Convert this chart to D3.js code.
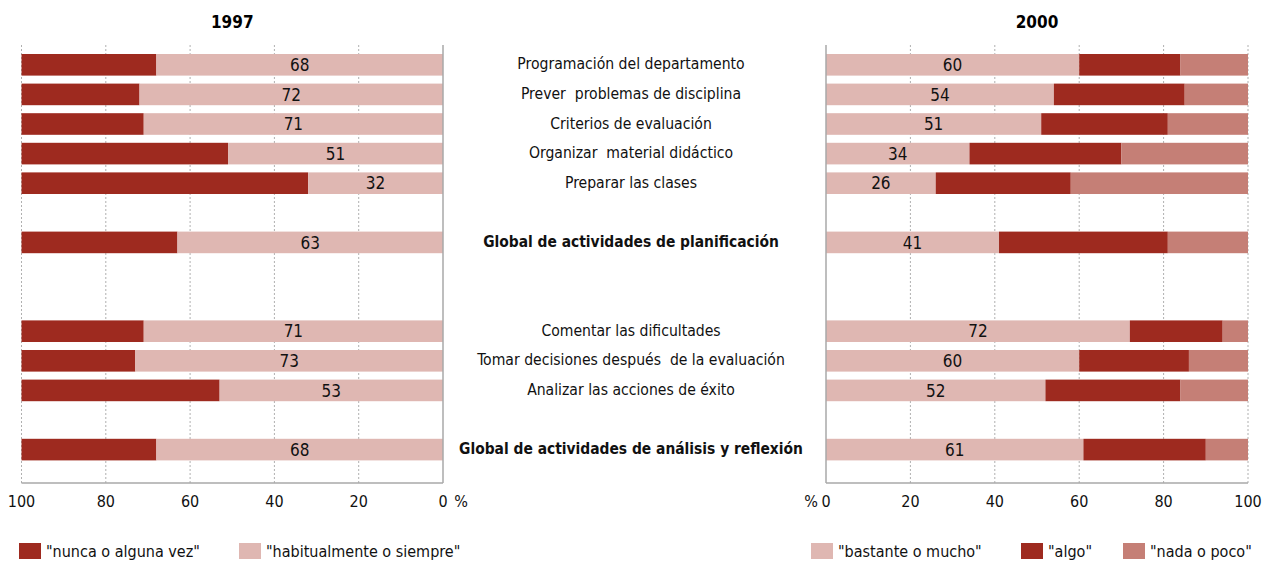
<!DOCTYPE html>
<html>
<head>
<meta charset="utf-8">
<script src="https://cdn.jsdelivr.net/npm/d3@7"></script>
<style>
  body { margin: 0; background: #fff; }
  svg { font-family: "Liberation Sans Narrow", "DejaVu Sans Condensed", "Liberation Sans", sans-serif; }
  text { white-space: pre; }
</style>
</head>
<body>
<svg id="chart" width="1266" height="562"></svg>
<script>
const categories = [
  "Programación del departamento",
  "Prever  problemas de disciplina",
  "Criterios de evaluación",
  "Organizar  material didáctico",
  "Preparar las clases",
  "Global de actividades de planificación",
  "Comentar las dificultades",
  "Tomar decisiones después  de la evaluación",
  "Analizar las acciones de éxito",
  "Global de actividades de análisis y reflexión"
];
const boldRows = ["Global de actividades de planificación", "Global de actividades de análisis y reflexión"];
// row order with empty rows between groups
const rowOrder = [0, 1, 2, 3, 4, null, 5, null, null, 6, 7, 8, null, 9];

// 1997
const nunca = [32, 28, 29, 49, 68, 37, 29, 27, 47, 32];
const habitual = [68, 72, 71, 51, 32, 63, 71, 73, 53, 68];
// 2000
const bastante = [60, 54, 51, 34, 26, 41, 72, 60, 52, 61];
const algo = [24, 31, 30, 36, 32, 40, 22, 26, 32, 29];
const nada = [16, 15, 19, 30, 42, 19, 6, 14, 16, 10];

const ticks = [0, 20, 40, 60, 80, 100];
const legend1997 = ['"nunca o alguna vez"', '"habitualmente o siempre"'];
const legend2000 = ['"bastante o mucho"', '"algo"', '"nada o poco"'];

const dark = "#9e2a1f", light = "#dfb7b2", mid = "#c57f76";
const axisColor = "#a8a8a8";

const svg = d3.select("#chart");
const plotTop = 45, plotBottom = 483;

const y = d3.scaleBand()
  .domain(rowOrder.map((d, i) => d === null ? "gap" + i : "r" + d))
  .range([50, 464.4])
  .paddingInner(0.27)
  .paddingOuter(0.135);
const rowY = i => y("r" + i);

const xL = d3.scaleLinear().domain([100, 0]).range([21.5, 443]);
const xR = d3.scaleLinear().domain([0, 100]).range([826, 1248]);

function grid(x, solidAt) {
  const g = svg.append("g");
  g.selectAll("line.grid")
    .data(ticks.filter(t => t !== solidAt))
    .enter().append("line")
    .attr("x1", d => x(d)).attr("x2", d => x(d))
    .attr("y1", plotTop).attr("y2", plotBottom)
    .attr("stroke", "#b0b0b0")
    .attr("stroke-width", 1)
    .attr("stroke-dasharray", "2,2");
}
grid(xL, 0);
grid(xR, 0);

// 1997 bars
const left = svg.append("g");
left.selectAll("rect.nunca").data(nunca).enter().append("rect")
  .attr("x", xL(100))
  .attr("y", (d, i) => rowY(i))
  .attr("width", d => xL(100 - d) - xL(100))
  .attr("height", y.bandwidth())
  .attr("fill", dark);
left.selectAll("rect.hab").data(habitual).enter().append("rect")
  .attr("x", d => xL(d))
  .attr("y", (d, i) => rowY(i))
  .attr("width", d => xL(0) - xL(d))
  .attr("height", y.bandwidth())
  .attr("fill", light);
left.selectAll("text").data(habitual).enter().append("text")
  .attr("x", d => (xL(d) + xL(0)) / 2)
  .attr("y", (d, i) => rowY(i) + y.bandwidth() / 2)
  .attr("dy", "0.36em")
  .attr("text-anchor", "middle")
  .attr("font-size", 17)
  .attr("fill", "#111")
  .text(d => d);

// 2000 bars
const right = svg.append("g");
right.selectAll("rect.bas").data(bastante).enter().append("rect")
  .attr("x", xR(0))
  .attr("y", (d, i) => rowY(i))
  .attr("width", d => xR(d) - xR(0))
  .attr("height", y.bandwidth())
  .attr("fill", light);
right.selectAll("rect.algo").data(algo).enter().append("rect")
  .attr("x", (d, i) => xR(bastante[i]))
  .attr("y", (d, i) => rowY(i))
  .attr("width", (d, i) => xR(bastante[i] + d) - xR(bastante[i]))
  .attr("height", y.bandwidth())
  .attr("fill", dark);
right.selectAll("rect.nada").data(nada).enter().append("rect")
  .attr("x", (d, i) => xR(bastante[i] + algo[i]))
  .attr("y", (d, i) => rowY(i))
  .attr("width", (d, i) => xR(100) - xR(bastante[i] + algo[i]))
  .attr("height", y.bandwidth())
  .attr("fill", mid);
right.selectAll("text").data(bastante).enter().append("text")
  .attr("x", d => (xR(0) + xR(d)) / 2)
  .attr("y", (d, i) => rowY(i) + y.bandwidth() / 2)
  .attr("dy", "0.36em")
  .attr("text-anchor", "middle")
  .attr("font-size", 17)
  .attr("fill", "#111")
  .text(d => d);

// axis lines
svg.append("line").attr("x1", xL(0)).attr("x2", xL(0)).attr("y1", plotTop).attr("y2", plotBottom)
  .attr("stroke", axisColor).attr("stroke-width", 1.5);
svg.append("line").attr("x1", xL(100)).attr("x2", xL(0)).attr("y1", plotBottom).attr("y2", plotBottom)
  .attr("stroke", axisColor).attr("stroke-width", 1.5);
svg.append("line").attr("x1", xR(0)).attr("x2", xR(0)).attr("y1", plotTop).attr("y2", plotBottom)
  .attr("stroke", axisColor).attr("stroke-width", 1.5);
svg.append("line").attr("x1", xR(0)).attr("x2", xR(100)).attr("y1", plotBottom).attr("y2", plotBottom)
  .attr("stroke", axisColor).attr("stroke-width", 1.5);

// tick labels
[xL, xR].forEach(x => {
  svg.append("g").selectAll("text").data(ticks).enter().append("text")
    .attr("x", d => x(d))
    .attr("y", 501)
    .attr("dy", "0.36em")
    .attr("text-anchor", "middle")
    .attr("font-size", 16)
    .attr("fill", "#111")
    .text(d => d);
});
svg.append("text").attr("x", 461).attr("y", 501).attr("dy", "0.36em")
  .attr("text-anchor", "middle").attr("font-size", 16).attr("fill", "#111").text("%");
svg.append("text").attr("x", 811).attr("y", 501).attr("dy", "0.36em")
  .attr("text-anchor", "middle").attr("font-size", 16).attr("fill", "#111").text("%");

// titles
svg.append("text").attr("x", (xL(100) + xL(0)) / 2).attr("y", 22).attr("dy", "0.36em")
  .attr("text-anchor", "middle").attr("font-size", 17).attr("font-weight", "bold").text("1997");
svg.append("text").attr("x", (xR(0) + xR(100)) / 2).attr("y", 22).attr("dy", "0.36em")
  .attr("text-anchor", "middle").attr("font-size", 17).attr("font-weight", "bold").text("2000");

// category labels in the middle
svg.append("g").selectAll("text").data(categories).enter().append("text")
  .attr("x", 631)
  .attr("y", (d, i) => rowY(i) + y.bandwidth() / 2 - 1)
  .attr("dy", "0.36em")
  .attr("text-anchor", "middle")
  .attr("font-size", d => boldRows.includes(d) ? 15.4 : 15.6)
  .attr("font-weight", d => boldRows.includes(d) ? "bold" : "normal")
  .attr("fill", "#111")
  .text(d => d);

// legends
function legend(items, colors, xs) {
  const g = svg.append("g");
  items.forEach((t, i) => {
    g.append("rect").attr("x", xs[i]).attr("y", 543).attr("width", 22).attr("height", 16).attr("fill", colors[i]);
    g.append("text").attr("x", xs[i] + 27).attr("y", 551).attr("dy", "0.36em")
      .attr("font-size", 16).attr("fill", "#111").text(t);
  });
}
legend(legend1997, [dark, light], [19, 239]);
legend(legend2000, [light, dark, mid], [811, 1021, 1123]);
</script>
</body>
</html>
